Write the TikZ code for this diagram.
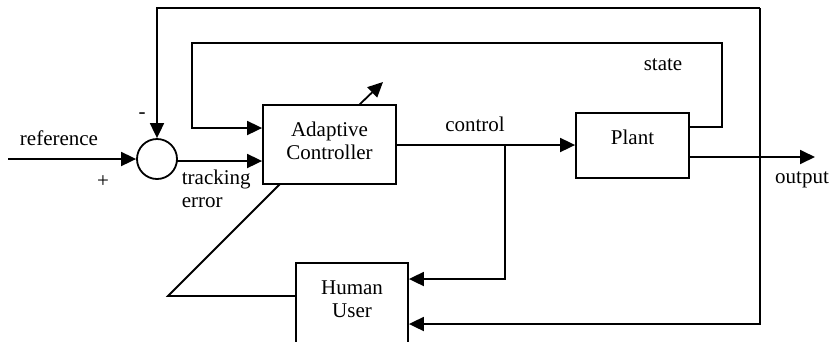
\documentclass[tikz,border=0pt]{standalone}
\usepackage{fontspec}
\setmainfont{Liberation Serif}
\newfontfamily\diagfont{Liberation Serif}
\usetikzlibrary{arrows.meta}

\begin{document}
\begin{tikzpicture}[x=1pt,y=-1pt,
  line width=1.8pt,
  arr/.style={-{Triangle[length=15pt,width=14pt]}},
  blockbox/.style={draw,fill=white,rectangle,inner sep=0pt},
  lbl/.style={inner sep=0pt,font=\diagfont\fontsize{21}{23}\selectfont}]

\useasboundingbox (0,0) rectangle (830,341);
\clip (0,0) rectangle (830,341);

% blocks
\node[draw,circle,minimum size=40pt,inner sep=0pt] (sum) at (157,159) {};
\node[blockbox,minimum width=133pt,minimum height=79pt] (ctrl) at (329.5,144.5) {};
\node[lbl,align=center] (ctrltext) at (329.5,140.5) {Adaptive\\Controller};
\node[blockbox,minimum width=113pt,minimum height=65pt] (plant) at (632.5,145.5) {};
\node[lbl] (planttext) at (632.5,137) {Plant};
\node[blockbox,minimum width=112pt,minimum height=110pt] (hu) at (352,318) {};
\node[lbl,align=center] (hutext) at (352,299) {Human\\User};

% helper points of the wiring
\coordinate (refin) at (8,159);
\coordinate (terr)  at (177,161);
\coordinate (stout) at (689,127);
\coordinate (stR)   at (722,127);
\coordinate (stTR)  at (722,43);
\coordinate (stTL)  at (192,43);
\coordinate (stBL)  at (192,128);
\coordinate (fbtop) at (760,8);
\coordinate (fbbot) at (760,324);
\coordinate (tap)   at (505,145);
\coordinate (tapB)  at (505,279);
\coordinate (outA)  at (689,157);
\coordinate (outB)  at (815,157);
\coordinate (adL)   at (168,296);
\coordinate (adIn)  at (280,184);
\coordinate (adOut) at (359,105);
\coordinate (adTip) at (383,82);

% reference input and tracking error
\draw[arr] (refin) -- (sum.west);
\draw[arr] (terr) -- (terr -| ctrl.west);

% state feedback
\draw[arr] (stout) -- (stR) -- (stTR) -- (stTL) -- (stBL) -- (stBL -| ctrl.west);

% output feedback
\draw[arr] (fbtop) -| (sum.north);
\draw[arr] (fbtop) -- (fbbot) -- (fbbot -| hu.east);

% control signal
\draw[arr] (ctrl.east |- tap) -- (tap -| plant.west);
\draw[arr] (tap) -- (tapB) -- (tapB -| hu.east);

% plant output
\draw[arr] (outA) -- (outB);

% adaptation path from the human user through the controller
\draw (adL -| hu.west) -- (adL) -- (adIn);
\draw[arr] (adOut) -- (adTip);

% labels
\node[lbl] (tref) at (59,138) {reference};
\node[lbl] (tminus) at (142,116) {-};
\node[lbl] (tplus) at (103,182) {+};
\node[lbl,align=left,anchor=west] (ttrack) at (181,189) {tracking\\error};
\node[lbl] (tctrl) at (475,124) {control};
\node[lbl] (tstate) at (663,65) {state};
\node[lbl] (tout) at (802,180) {output};
\end{tikzpicture}
\end{document}
